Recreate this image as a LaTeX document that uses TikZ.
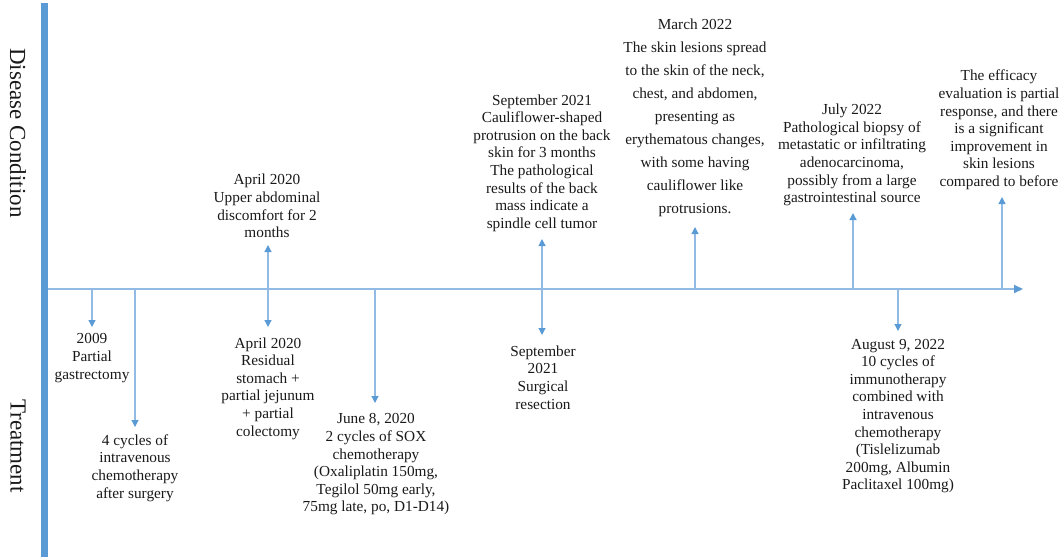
\documentclass[tikz,border=0pt]{standalone}
\usepackage{fontspec}
\setmainfont{Liberation Serif}
\usetikzlibrary{arrows.meta}
\definecolor{barblue}{RGB}{91,155,213}
\definecolor{lineblue}{RGB}{145,187,228}
\definecolor{tipblue}{RGB}{91,155,213}
\tikzset{
 lbl/.style={align=center, inner sep=0pt, font=\fontsize{15.3}{17.6}\selectfont, text=black!90},
 lblwide/.style={align=center, inner sep=0pt, font=\fontsize{15.3}{23}\selectfont, text=black!90},
 conn/.style={draw=lineblue, line width=1.2pt, -{Triangle[length=7pt,width=7pt,color=tipblue]}},
 axisline/.style={draw=lineblue, line width=1.8pt, -{Triangle[length=9pt,width=8pt,color=tipblue]}},
 side/.style={font=\fontsize{23}{26}\selectfont, rotate=-90, inner sep=0pt, text=black!90},
}
\begin{document}
\begin{tikzpicture}[x=1pt,y=-1pt]
\useasboundingbox (0,0) rectangle (1064,557);
\fill[barblue] (41,3) rectangle (48,557);
\node[side] (dc) at (18,133) {Disease Condition};
\node[side] (tr) at (18,446) {Treatment};

% axis
\coordinate (ax0) at (48,289);
\coordinate (ax1) at (1023,289);
\draw[axisline] (ax0) -- (ax1);

% branch points on the axis and arrow tips
\foreach \n/\x/\y in {a/92/327, b/135/427, c/268/327, d/268/245, e/375/403,
  f/542/239, g/542/335, h/695/227, i/853/213, j/898/331, k/1002/197}{
  \coordinate (s\n) at (\x,289);
  \coordinate (e\n) at (\x,\y);
}
\foreach \n in {a,b,c,d,e,f,g,h,i,j,k}{
  \draw[conn] (s\n) -- (e\n);
}

% treatment labels
\node[lbl] (t2009) at (92,358) {2009\\Partial\\gastrectomy};
\node[lbl] (tfour) at (135,468) {4 cycles of\\intravenous\\chemotherapy\\after surgery};
\node[lbl] (taprdn) at (268,388.5) {April 2020\\Residual\\stomach +\\partial jejunum\\+ partial\\colectomy};
\node[lbl] (tjun) at (376,464.5) {June 8, 2020\\2 cycles of SOX\\chemotherapy\\(Oxaliplatin 150mg,\\Tegilol 50mg early,\\75mg late, po, D1-D14)};
\node[lbl] (tsepdn) at (543,377.5) {September\\2021\\Surgical\\resection};
\node[lbl] (taug) at (898,416) {August 9, 2022\\10 cycles of\\immunotherapy\\combined with\\intravenous\\chemotherapy\\(Tislelizumab\\200mg, Albumin\\Paclitaxel 100mg)};

% disease condition labels
\node[lbl] (taprup) at (267,206) {April 2020\\Upper abdominal\\discomfort for 2\\months};
\node[lbl] (tsepup) at (542,163) {September 2021\\Cauliflower-shaped\\protrusion on the back\\skin for 3 months\\The pathological\\results of the back\\mass indicate a\\spindle cell tumor};
\node[lblwide] (tmar) at (695,117.5) {March 2022\\The skin lesions spread\\to the skin of the neck,\\chest, and abdomen,\\presenting as\\erythematous changes,\\with some having\\cauliflower like\\protrusions.};
\node[lbl] (tjul) at (852,155) {July 2022\\Pathological biopsy of\\metastatic or infiltrating\\adenocarcinoma,\\possibly from a large\\gastrointestinal source};
\node[lbl] (teff) at (999,130) {The efficacy\\evaluation is partial\\response, and there\\is a significant\\improvement in\\skin lesions\\compared to before};
\end{tikzpicture}
\end{document}
